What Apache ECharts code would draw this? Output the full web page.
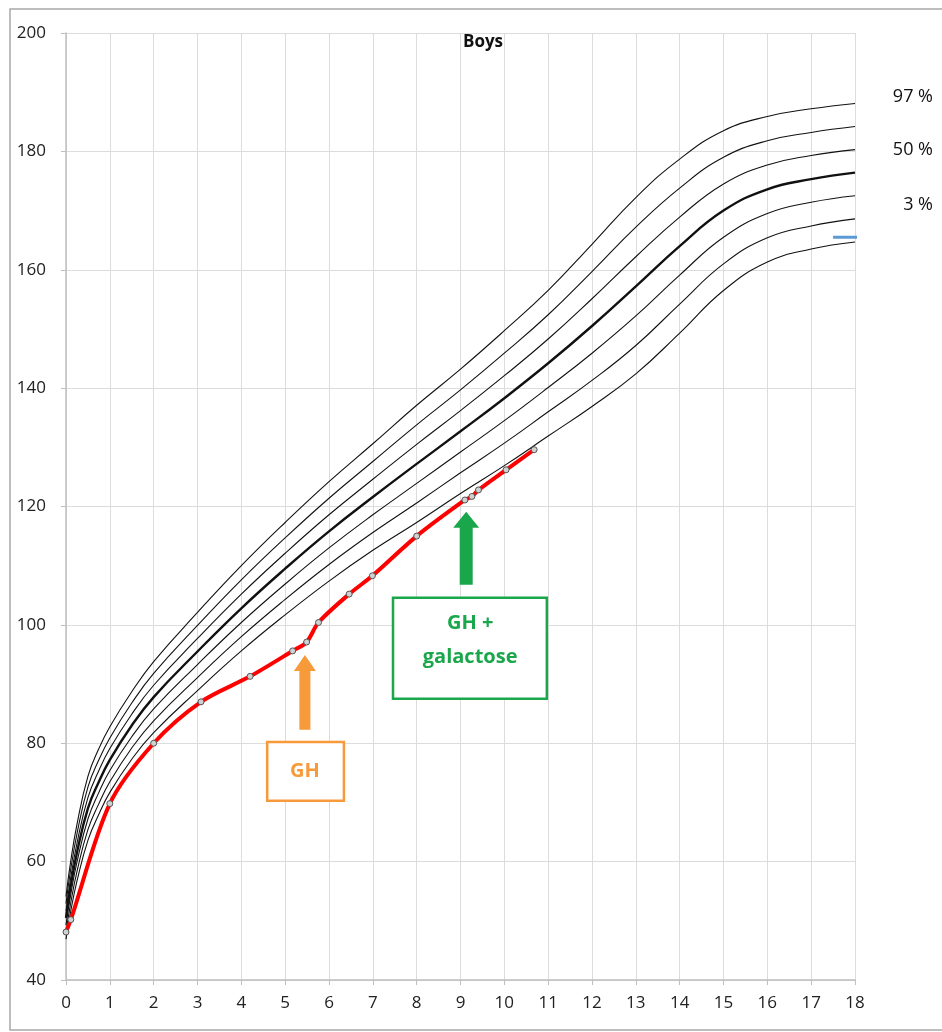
<!DOCTYPE html>
<html>
<head>
<meta charset="utf-8">
<script src="https://cdn.jsdelivr.net/npm/echarts@6/dist/echarts.min.js"></script>
<style>
html,body{margin:0;padding:0;background:#fff;}
#chart{width:942px;height:1032px;}
</style>
</head>
<body>
<div id="chart"></div>
<script>
// Ages (years) at which the reference percentile curves are sampled
const ages = [0, 0.1, 0.25, 0.5, 0.75, 1, 1.5, 2, 3, 4, 5, 6, 7, 8, 9, 10, 11, 12, 13, 14, 15, 16, 17, 18];
// Reference percentile curves (height, cm)
const p3  = [46.9, 51.3, 56.7, 63.6, 68.0, 71.7, 77.3, 81.8, 88.9, 95.6, 101.7, 107.4, 112.6, 117.3, 122.2, 126.9, 131.9, 136.9, 142.4, 149.3, 156.5, 161.3, 163.5, 164.7];
const p10 = [48.1, 52.7, 58.3, 65.4, 69.8, 73.5, 79.2, 83.8, 91.1, 98.0, 104.3, 110.2, 115.6, 120.6, 125.7, 130.7, 136.0, 141.3, 147.2, 154.2, 161.0, 165.4, 167.4, 168.6];
const p25 = [49.3, 54.1, 59.9, 67.2, 71.7, 75.4, 81.1, 85.8, 93.3, 100.4, 106.9, 113.0, 118.6, 123.9, 129.2, 134.5, 140.1, 145.9, 152.2, 159.1, 165.5, 169.5, 171.4, 172.5];
const p50 = [50.5, 55.5, 61.5, 69.0, 73.5, 77.2, 83.0, 87.8, 95.5, 102.8, 109.5, 115.8, 121.6, 127.2, 132.7, 138.3, 144.2, 150.5, 157.2, 164.0, 170.0, 173.6, 175.3, 176.4];
const p75 = [51.7, 56.9, 63.1, 70.8, 75.4, 79.1, 84.9, 89.8, 97.7, 105.2, 112.1, 118.6, 124.6, 130.5, 136.2, 142.1, 148.3, 155.1, 162.2, 168.9, 174.5, 177.7, 179.3, 180.3];
const p90 = [52.9, 58.3, 64.7, 72.6, 77.2, 80.9, 86.8, 91.8, 99.9, 107.6, 114.7, 121.4, 127.6, 133.8, 139.7, 145.9, 152.4, 159.7, 167.2, 173.8, 179.0, 181.8, 183.2, 184.2];
const p97 = [54.1, 59.7, 66.3, 74.4, 79.1, 82.8, 88.7, 93.8, 102.1, 110.0, 117.3, 124.2, 130.6, 137.1, 143.2, 149.7, 156.5, 164.3, 172.2, 178.7, 183.5, 185.9, 187.2, 188.1];
// Patient measurements
const patientAge    = [0, 0.11, 1.0, 2.0, 3.08, 4.2, 5.17, 5.49, 5.76, 6.46, 6.99, 8.0, 9.1, 9.26, 9.41, 10.04, 10.68];
const patientHeight = [48.1, 50.2, 69.8, 80.0, 87.0, 91.3, 95.6, 97.1, 100.4, 105.2, 108.3, 115.0, 121.1, 121.7, 122.8, 126.2, 129.6];
// Axis ticks
const xTicks = [0, 18, 1];
const yTicks = [40, 200, 20];
// Text labels
const titleText = 'Boys';
const pctLabels = ['97 %', '50 %', '3 %'];
const targetHeight = [[17.5, 165.5], [18.6, 165.5]];

function pairs(xs, ys){ return xs.map((x,i)=>[x, ys[i]]); }

const chart = echarts.init(document.getElementById('chart'));
const refStyle = (w) => ({
  type: 'line', smooth: 0.45, showSymbol: false, silent: true,
  lineStyle: { color: '#111', width: w }, z: 3
});
const refs = [p3, p10, p25, p50, p75, p90, p97];
const series = refs.map((arr, i) => Object.assign(refStyle(i === 3 ? 2.4 : 1.1), { data: pairs(ages, arr) }));
series.push({
  type: 'line', smooth: 0.3, data: pairs(patientAge, patientHeight),
  symbol: 'circle', symbolSize: 6, showAllSymbol: true,
  itemStyle: { color: '#d0d0d0', borderColor: '#555', borderWidth: 1 },
  lineStyle: { color: '#ff0000', width: 4 }, z: 5
});
series.push({
  type: 'line', data: targetHeight, showSymbol: false, silent: true, clip: false,
  lineStyle: { color: '#5b9bd5', width: 3 }, z: 4
});

chart.setOption({
  animation: false,
  backgroundColor: '#fff',
  grid: { left: 66, right: 87, top: 33, bottom: 52, containLabel: false },
  xAxis: {
    type: 'value', min: xTicks[0], max: xTicks[1], interval: xTicks[2],
    axisLine: { show: true, lineStyle: { color: '#bfbfbf', width: 1.5 } },
    axisTick: { show: true, length: 5, lineStyle: { color: '#bfbfbf' } },
    splitLine: { show: true, lineStyle: { color: '#dcdcdc', width: 1 } },
    axisLabel: { color: '#222', fontSize: 17, fontFamily: 'Open Sans', margin: 15 }
  },
  yAxis: {
    type: 'value', min: yTicks[0], max: yTicks[1], interval: yTicks[2],
    axisLine: { show: true, lineStyle: { color: '#bfbfbf', width: 1.5 } },
    axisTick: { show: true, length: 5, lineStyle: { color: '#bfbfbf' } },
    splitLine: { show: true, lineStyle: { color: '#dcdcdc', width: 1 } },
    axisLabel: { color: '#222', fontSize: 17, fontFamily: 'Open Sans', margin: 20 }
  },
  series: series
});

// Annotations anchored in data space
function px(x, y){ return chart.convertToPixel({gridIndex:0}, [x, y]); }
function arrow(x, yTip, yBase, color, shaftW, headW, headH){
  const t = px(x, yTip), b = px(x, yBase);
  const cx = t[0];
  return {
    type: 'polygon', z: 10,
    shape: { points: [
      [cx, t[1]], [cx + headW/2, t[1] + headH], [cx + shaftW/2, t[1] + headH],
      [cx + shaftW/2, b[1]], [cx - shaftW/2, b[1]], [cx - shaftW/2, t[1] + headH],
      [cx - headW/2, t[1] + headH]
    ]},
    style: { fill: color }
  };
}
function box(x0, y0, x1, y1, color){
  const a = px(x0, y0), b = px(x1, y1);
  return { type: 'rect', z: 10, shape: { x: a[0], y: a[1], width: b[0]-a[0], height: b[1]-a[1] },
    style: { fill: '#fff', stroke: color, lineWidth: 2.5 } };
}
function label(x, y, text, color, size){
  const p = px(x, y);
  return { type: 'text', z: 11, x: p[0], y: p[1],
    style: { text: text, fill: color, font: 'bold ' + size + 'px "Open Sans"', align: 'center', verticalAlign: 'middle' } };
}
const orange = '#f79a3a', green = '#1aa64a';
const g = [
  { type: 'rect', z: 0, shape: { x: 10, y: 9, width: 940, height: 1021 }, style: { fill: 'none', stroke: '#a8a8a8', lineWidth: 1.5 } },
  { type: 'text', z: 11, x: 483, y: 42, style: { text: titleText, fill: '#111', font: 'bold 17px "Open Sans"', align: 'center', verticalAlign: 'middle' } },
  { type: 'text', z: 11, x: 933, y: 97, style: { text: pctLabels[0], fill: '#111', font: '18px "Open Sans"', align: 'right', verticalAlign: 'middle' } },
  { type: 'text', z: 11, x: 933, y: 150, style: { text: pctLabels[1], fill: '#111', font: '18px "Open Sans"', align: 'right', verticalAlign: 'middle' } },
  { type: 'text', z: 11, x: 933, y: 205, style: { text: pctLabels[2], fill: '#111', font: '18px "Open Sans"', align: 'right', verticalAlign: 'middle' } },
  arrow(5.45, 94.9, 82.3, orange, 11, 22, 16),
  box(4.59, 80.2, 6.34, 70.3, orange),
  label(5.45, 75.3, 'GH', orange, 20),
  arrow(9.13, 119.1, 106.8, green, 13, 26, 16),
  box(7.46, 104.6, 10.97, 87.5, green),
  label(9.22, 100.3, 'GH +', green, 20),
  label(9.22, 94.6, 'galactose', green, 20)
];
chart.setOption({ graphic: g });
</script>
</body>
</html>
